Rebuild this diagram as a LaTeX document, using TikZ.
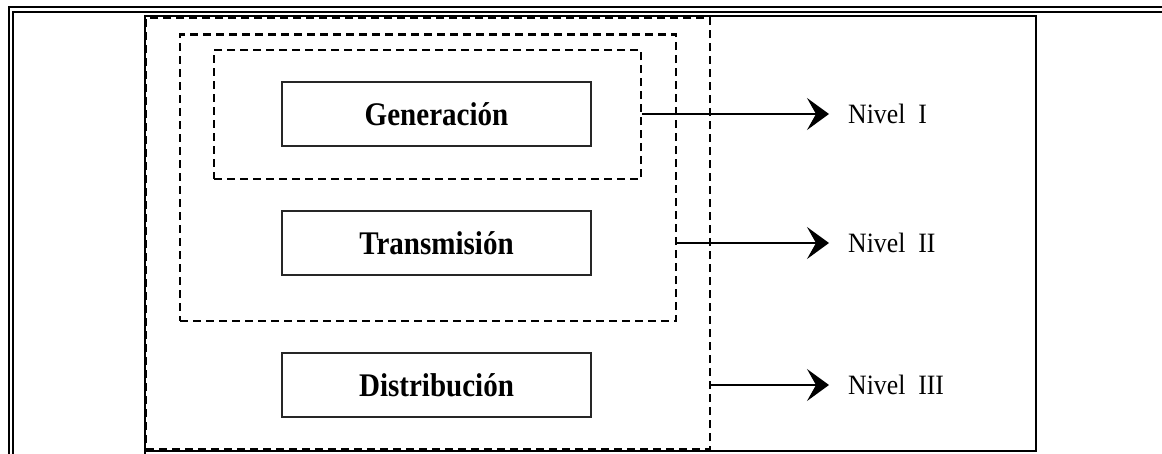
\documentclass[tikz,border=0pt]{standalone}
\usepackage{fontspec}
\setmainfont{Liberation Serif}
\usetikzlibrary{arrows.meta}
\begin{document}
\begin{tikzpicture}[x=1pt,y=-1pt,
  stagebox/.style={draw=black!85,line width=1.6pt,minimum width=309pt,minimum height=64pt,
    inner sep=0pt,font=\fontsize{33}{38}\selectfont\bfseries},
  levelbox/.style={draw,dashed,line width=2.6pt,dash pattern=on 8pt off 5pt,inner sep=0pt},
  levellabel/.style={anchor=west,inner xsep=19pt,inner ysep=0pt,font=\fontsize{28}{32}\selectfont},
  levelarrow/.style={line width=1.4pt,-{Stealth[length=22pt,width=32pt,inset=9pt]}}]
\useasboundingbox (0,0) rectangle (1162,453);
\clip (0,0) rectangle (1162,453);
% page border (double rule)
\draw[line width=1.7pt] (9.3,470) -- (9.3,7.3) -- (1180,7.3);
\draw[line width=1.7pt] (12.7,470) -- (12.7,11.7) -- (1180,11.7);
% solid frame
\draw[line width=2pt] (145,460) -- (145,16) -- (1036,16) -- (1036,451) -- (145,451);
% nested level boxes
\node[levelbox,minimum width=564pt,minimum height=431pt] (lvl3) at (428,233.5) {};
\node[levelbox,minimum width=496pt,minimum height=286.5pt] (lvl2) at (428,177.75) {};
\node[levelbox,minimum width=427pt,minimum height=129pt] (lvl1) at (427.5,114.5) {};
% stages
\node[stagebox] (gen) at (436.5,114) {\scalebox{0.88}[1]{Generación}};
\node[stagebox] (tra) at (436.5,243) {\scalebox{0.88}[1]{Transmisión}};
\node[stagebox] (dis) at (436.5,385) {\scalebox{0.88}[1]{Distribución}};
% level labels
\node[levellabel] (n1) at (829,114) {\scalebox{0.92}[1]{Nivel\ \ I}};
\node[levellabel] (n2) at (829,243) {\scalebox{0.92}[1]{Nivel\ \ II}};
\node[levellabel] (n3) at (829,385) {\scalebox{0.92}[1]{Nivel\ \ III}};
% arrows
\draw[levelarrow] (lvl1.east |- gen) -- (n1.west);
\draw[levelarrow] (lvl2.east |- tra) -- (n2.west);
\draw[levelarrow] (lvl3.east |- dis) -- (n3.west);
\end{tikzpicture}
\end{document}
